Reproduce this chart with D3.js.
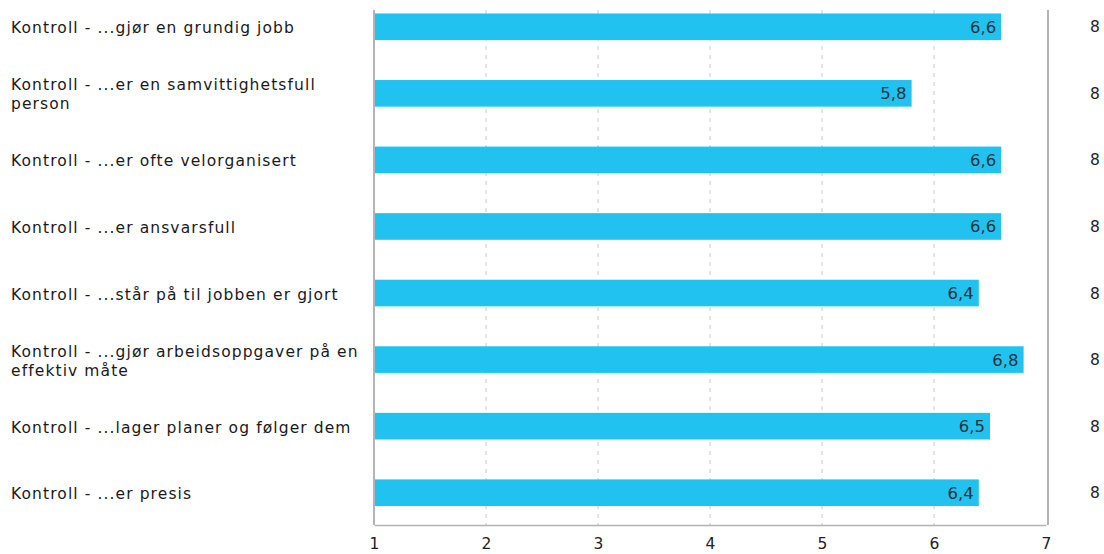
<!DOCTYPE html>
<html lang="no">
<head>
	<meta charset="UTF-8">
	<title>Kontroll</title>
	<style>
		body { margin: 0; background: #fff; }
		svg text { font-family: "DejaVu Sans", Verdana, sans-serif; }
	</style>
</head>
<body>
	<svg id="cont" width="1104" height="554"></svg>
</body>
<script src="https://cdn.jsdelivr.net/npm/d3@7"></script>
<script>
	let categories = [
		"Kontroll - ...gjør en grundig jobb",
		"Kontroll - ...er en samvittighetsfull person",
		"Kontroll - ...er ofte velorganisert",
		"Kontroll - ...er ansvarsfull",
		"Kontroll - ...står på til jobben er gjort",
		"Kontroll - ...gjør arbeidsoppgaver på en effektiv måte",
		"Kontroll - ...lager planer og følger dem",
		"Kontroll - ...er presis"
	];
	let values = [6.6, 5.8, 6.6, 6.6, 6.4, 6.8, 6.5, 6.4];
	let counts = [8, 8, 8, 8, 8, 8, 8, 8];
	let ticks = [1, 2, 3, 4, 5, 6, 7];

	let svg = d3.select("#cont");
	let plotLeft = 374, plotRight = 1048, plotTop = 10, plotBottom = 525;

	let x = d3.scaleLinear()
		.domain([1, 7])
		.range([plotLeft, plotRight - 2]);
	let y = d3.scaleBand()
		.domain(categories)
		.range([-6.5, 526])
		.paddingInner(0.6)
		.paddingOuter(0.3);

	// dashed grid
	svg.append("g")
		.selectAll("line")
		.data(ticks.slice(1, -1))
		.join("line")
		.attr("x1", d => x(d)).attr("x2", d => x(d))
		.attr("y1", plotTop).attr("y2", plotBottom)
		.attr("stroke", "#c8c8c8")
		.attr("stroke-dasharray", "4,5");

	// bars
	svg.append("g")
		.selectAll("rect")
		.data(values)
		.join("rect")
		.attr("x", x(1))
		.attr("y", (d, i) => y(categories[i]))
		.attr("width", d => x(d) - x(1))
		.attr("height", y.bandwidth())
		.attr("fill", "#21c2ef");

	svg.append("g")
		.selectAll("text")
		.data(values)
		.join("text")
		.attr("x", d => x(d) - 5)
		.attr("y", (d, i) => y(categories[i]) + y.bandwidth() / 2)
		.attr("dy", "0.36em")
		.attr("text-anchor", "end")
		.attr("font-size", 16.5)
		.attr("fill", "#26323a")
		.text(d => d3.format(".1f")(d).replace(".", ","));

	// frame
	svg.append("line").attr("x1", plotLeft).attr("x2", plotLeft).attr("y1", plotTop).attr("y2", plotBottom)
		.attr("stroke", "#b4b4b4").attr("stroke-width", 2);
	svg.append("line").attr("x1", plotRight).attr("x2", plotRight).attr("y1", plotTop).attr("y2", plotBottom)
		.attr("stroke", "#b4b4b4").attr("stroke-width", 2);

	let xaxis = d3.axisBottom(x)
		.tickValues(ticks)
		.tickSize(0)
		.tickPadding(13)
		.tickFormat(d => d);
	let gx = svg.append("g")
		.attr("transform", `translate(0,${plotBottom})`)
		.call(xaxis);
	gx.select(".domain").attr("stroke", "#b4b4b4").attr("stroke-width", 1.5);
	gx.selectAll("text").attr("font-size", 15.5).attr("fill", "#222")
		.style("font-family", '"DejaVu Sans", Verdana, sans-serif');

	// category labels, wrapped
	let labels = svg.append("g")
		.selectAll("text")
		.data(categories)
		.join("text")
		.attr("x", 11)
		.attr("font-size", 15.5)
		.attr("letter-spacing", 1.1)
		.attr("fill", "#1a1a1a");
	labels.each(function(d) {
		let t = d3.select(this);
		let words = d.split(" ");
		let lines = [], cur = [];
		words.forEach(w => {
			cur.push(w);
			t.text(cur.join(" "));
			if (this.getComputedTextLength() > 356 && cur.length > 1) {
				cur.pop();
				lines.push(cur.join(" "));
				cur = [w];
			}
		});
		lines.push(cur.join(" "));
		t.text(null);
		let cy = y(d) + y.bandwidth() / 2;
		let lh = 19;
		lines.forEach((l, i) => {
			t.append("tspan")
				.attr("x", 11)
				.attr("y", cy - (lines.length - 1) * lh / 2 + i * lh + 1)
				.attr("dy", "0.36em")
				.text(l);
		});
	});

	// count column
	svg.append("g")
		.selectAll("text")
		.data(counts)
		.join("text")
		.attr("x", 1095)
		.attr("y", (d, i) => y(categories[i]) + y.bandwidth() / 2)
		.attr("dy", "0.36em")
		.attr("text-anchor", "middle")
		.attr("font-size", 15.5)
		.attr("fill", "#222")
		.text(d => d);
</script>
</html>
